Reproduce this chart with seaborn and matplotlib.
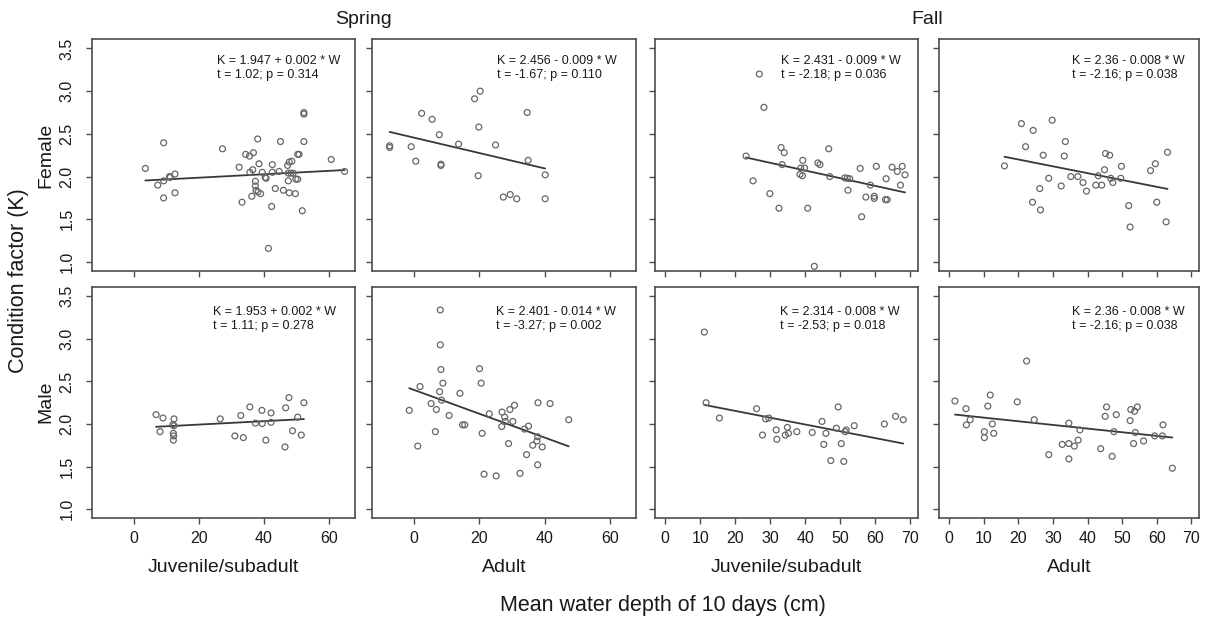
import numpy as np
import pandas as pd
import matplotlib
matplotlib.use("Agg")
import matplotlib.pyplot as plt
import seaborn as sns

# ---------------- data ----------------
seasons = ["Spring", "Fall"]
stages = ["Juvenile/subadult", "Adult"]
sexes = ["Female", "Male"]

spring_xticks = [0, 20, 40, 60]
fall_xticks = [0, 10, 20, 30, 40, 50, 60, 70]
yticks = [1.0, 1.5, 2.0, 2.5, 3.0, 3.5]

# Female, spring, juvenile/subadult
f_spr_juv_x = [3.6, 9.2, 7.4, 9.2, 11.0, 11.2, 9.2, 12.7, 12.7, 27.3,
               32.4, 33.3, 34.4, 35.6, 36.8, 38.1, 38.5, 35.7, 36.6, 36.3,
               37.4, 37.4, 37.6, 38.2, 39.0, 39.5, 40.4, 40.7, 41.4, 42.4,
               42.6, 42.6, 43.5, 44.7, 45.1, 46.0, 47.3, 47.8, 48.6, 47.5,
               48.3, 49.0, 47.5, 47.8, 49.7, 49.8, 50.4, 50.4, 50.8, 52.3,
               52.3, 52.3, 51.8, 60.7, 64.8]
f_spr_juv_y = [2.095, 2.395, 1.90, 1.95, 2.00, 1.99, 1.75, 2.03, 1.81, 2.325,
               2.11, 1.70, 2.26, 2.24, 2.28, 2.44, 2.15, 2.05, 2.08, 1.77,
               1.945, 1.89, 1.84, 1.82, 1.80, 2.05, 1.99, 1.98, 1.16, 1.65,
               2.14, 2.05, 1.86, 2.06, 2.41, 1.84, 2.13, 2.17, 2.18, 2.04,
               2.04, 2.04, 1.95, 1.81, 1.80, 1.97, 1.97, 2.26, 2.26, 2.75,
               2.73, 2.41, 1.60, 2.20, 2.06]

# Female, spring, adult
f_spr_adu_x = [-7.4, -7.4, -0.8, 0.6, 2.4, 5.6, 7.8, 8.3, 8.3, 13.7,
               18.6, 20.3, 19.9, 19.7, 25.0, 27.4, 29.5, 31.5, 34.7, 35.0,
               40.2, 40.2]
f_spr_adu_y = [2.36, 2.34, 2.35, 2.18, 2.74, 2.67, 2.49, 2.145, 2.13, 2.38,
               2.91, 3.00, 2.58, 2.01, 2.37, 1.76, 1.79, 1.74, 2.75, 2.19,
               2.02, 1.74]

# Female, fall, juvenile/subadult
f_fal_juv_x = [23.1, 25.1, 26.9, 28.2, 29.9, 32.5, 33.1, 34.0, 33.4, 38.5,
               39.2, 39.3, 38.7, 39.8, 40.7, 43.6, 44.2, 42.6, 46.7, 47.0,
               51.3, 52.0, 52.7, 52.2, 55.7, 56.1, 57.3, 58.6, 59.7, 59.7,
               60.3, 63.1, 62.9, 63.4, 64.8, 66.3, 67.2, 67.7, 68.5]
f_fal_juv_y = [2.24, 1.95, 3.20, 2.81, 1.80, 1.63, 2.34, 2.28, 2.14, 2.025,
               2.01, 2.19, 2.10, 2.10, 1.63, 2.16, 2.14, 0.95, 2.325, 2.00,
               1.985, 1.98, 1.975, 1.84, 2.095, 1.53, 1.76, 1.90, 1.77, 1.745,
               2.12, 1.975, 1.73, 1.73, 2.11, 2.06, 1.90, 2.12, 2.02]

# Female, fall, adult
f_fal_adu_x = [16.0, 20.9, 22.1, 24.3, 24.1, 26.4, 26.2, 27.2, 28.8, 29.8,
               32.4, 33.3, 33.6, 35.2, 37.2, 38.7, 39.7, 42.4, 44.1, 43.1,
               44.9, 45.2, 46.4, 46.7, 47.3, 49.8, 49.6, 51.9, 52.3, 58.2,
               59.6, 60.0, 63.1, 62.7]
f_fal_adu_y = [2.125, 2.62, 2.35, 2.54, 1.70, 1.61, 1.86, 2.25, 1.98, 2.66,
               1.89, 2.24, 2.41, 2.00, 2.00, 1.93, 1.83, 1.90, 1.90, 2.01,
               2.08, 2.27, 2.25, 1.98, 1.93, 2.12, 1.98, 1.66, 1.41, 2.07,
               2.15, 1.70, 2.285, 1.47]

# Male, spring, juvenile/subadult
m_spr_juv_x = [6.9, 9.0, 8.1, 12.4, 12.0, 12.4, 12.2, 12.3, 12.2, 26.6,
               31.1, 33.7, 32.9, 35.7, 37.4, 39.4, 39.5, 40.6, 42.2, 42.2,
               46.5, 46.7, 47.7, 48.8, 50.4, 51.5, 52.3]
m_spr_juv_y = [2.11, 2.07, 1.91, 2.06, 1.99, 1.98, 1.89, 1.86, 1.81, 2.06,
               1.86, 1.84, 2.10, 2.20, 2.01, 2.16, 2.005, 1.81, 2.13, 2.02,
               1.73, 2.19, 2.31, 1.92, 2.08, 1.87, 2.25]

# Male, spring, adult
m_spr_adu_x = [8.1, 8.1, 8.3, 8.9, 7.9, 8.5, 1.9, -1.4, 1.2, 5.3,
               6.9, 6.6, 10.8, 14.1, 14.9, 15.6, 20.1, 20.6, 20.9, 21.5,
               23.1, 25.2, 26.9, 27.0, 27.8, 28.0, 29.0, 29.4, 30.3, 30.8,
               32.5, 33.9, 34.5, 35.1, 36.4, 37.7, 37.9, 37.9, 38.0, 39.3,
               41.7, 47.4]
m_spr_adu_y = [3.34, 2.93, 2.64, 2.48, 2.38, 2.28, 2.44, 2.16, 1.74, 2.24,
               2.17, 1.91, 2.10, 2.36, 1.99, 1.99, 2.65, 2.48, 1.89, 1.41,
               2.12, 1.39, 1.97, 2.14, 2.08, 2.03, 1.77, 2.17, 2.03, 2.22,
               1.42, 1.94, 1.64, 1.975, 1.75, 1.80, 1.85, 1.52, 2.25, 1.73,
               2.24, 2.05]

# Male, fall, juvenile/subadult
m_fal_juv_x = [11.2, 11.7, 15.5, 26.1, 27.8, 28.7, 29.6, 31.7, 31.9, 34.3,
               34.9, 35.2, 37.6, 42.0, 44.8, 45.3, 45.9, 47.3, 48.9, 49.4,
               50.3, 51.0, 51.4, 51.7, 54.0, 62.6, 65.8, 68.0]
m_fal_juv_y = [3.08, 2.25, 2.07, 2.18, 1.87, 2.06, 2.07, 1.93, 1.82, 1.87,
               1.96, 1.89, 1.91, 1.90, 2.03, 1.76, 1.89, 1.57, 1.95, 2.20,
               1.77, 1.56, 1.91, 1.93, 1.98, 2.00, 2.09, 2.05]

# Male, fall, adult
m_fal_adu_x = [1.7, 4.9, 5.0, 6.1, 10.2, 10.2, 11.2, 11.9, 12.5, 12.9,
               19.7, 22.4, 24.6, 28.8, 32.7, 34.6, 34.6, 34.6, 36.2, 37.3,
               37.8, 43.8, 45.1, 45.5, 47.1, 47.6, 48.3, 52.3, 52.5, 53.3,
               53.6, 53.8, 54.4, 56.2, 59.4, 61.6, 61.8, 64.5]
m_fal_adu_y = [2.27, 2.18, 1.99, 2.05, 1.91, 1.84, 2.21, 2.34, 2.00, 1.89,
               2.26, 2.74, 2.05, 1.64, 1.76, 2.01, 1.77, 1.59, 1.74, 1.81,
               1.93, 1.71, 2.09, 2.20, 1.62, 1.91, 2.11, 2.04, 2.17, 1.77,
               2.15, 1.90, 2.20, 1.80, 1.86, 1.86, 1.99, 1.48]

# regression lines as drawn (intercept, slope), panel order row-major
line_intercepts = [1.947, 2.456, 2.431, 2.36, 1.953, 2.401, 2.314, 2.118]
line_slopes = [0.002, -0.009, -0.009, -0.008, 0.002, -0.014, -0.008, -0.0043]

eq_labels = ["K = 1.947 + 0.002 * W", "K = 2.456 - 0.009 * W",
             "K = 2.431 - 0.009 * W", "K = 2.36 - 0.008 * W",
             "K = 1.953 + 0.002 * W", "K = 2.401 - 0.014 * W",
             "K = 2.314 - 0.008 * W", "K = 2.36 - 0.008 * W"]
stat_labels = ["t = 1.02; p = 0.314", "t = -1.67; p = 0.110",
               "t = -2.18; p = 0.036", "t = -2.16; p = 0.038",
               "t = 1.11; p = 0.278", "t = -3.27; p = 0.002",
               "t = -2.53; p = 0.018", "t = -2.16; p = 0.038"]

panel_x = [f_spr_juv_x, f_spr_adu_x, f_fal_juv_x, f_fal_adu_x,
           m_spr_juv_x, m_spr_adu_x, m_fal_juv_x, m_fal_adu_x]
panel_y = [f_spr_juv_y, f_spr_adu_y, f_fal_juv_y, f_fal_adu_y,
           m_spr_juv_y, m_spr_adu_y, m_fal_juv_y, m_fal_adu_y]

# ---------------- style ----------------
sns.set_theme(style="ticks")
plt.rcParams["font.family"] = ["Liberation Sans", "DejaVu Sans"]

W, H = 1207, 619
fig = plt.figure(figsize=(W / 100, H / 100), dpi=100)

col_left = [92, 372, 655, 939]
col_right = [355, 636, 918, 1199]
row_top = [39, 287]
row_bot = [271, 518]
ann_x = [[0.475, 0.473, 0.48, 0.51], [0.461, 0.468, 0.475, 0.51]]
ann_y = [(0.907, 0.845), (0.893, 0.832)]

frame_col = "#4d4d4d"
txt_col = "#1a1a1a"
pt_col = "#666666"
line_col = "#383838"

for r in range(2):
    for c in range(4):
        i = r * 4 + c
        season = seasons[c // 2]
        stage = stages[c % 2]
        left = col_left[c] / W
        width = (col_right[c] - col_left[c]) / W
        bottom = 1 - row_bot[r] / H
        height = (row_bot[r] - row_top[r]) / H
        ax = fig.add_axes([left, bottom, width, height])

        df = pd.DataFrame({"depth": panel_x[i], "K": panel_y[i]})
        sns.scatterplot(data=df, x="depth", y="K", ax=ax, marker="o", s=18,
                        facecolor="none", edgecolor=pt_col, linewidth=0.9,
                        zorder=3)
        xs = np.array([df["depth"].min(), df["depth"].max()])
        ys = line_intercepts[i] + line_slopes[i] * xs
        sns.lineplot(x=xs, y=ys, ax=ax, color=line_col, linewidth=1.3,
                     zorder=2)

        if season == "Spring":
            ax.set_xlim(-12.8, 68.0)
            ax.set_xticks(spring_xticks)
        else:
            ax.set_xlim(-2.9, 72.2)
            ax.set_xticks(fall_xticks)
        ax.set_ylim(0.895, 3.61)
        ax.set_yticks(yticks)
        ax.yaxis.set_major_formatter("{x:.1f}")
        ax.set_xlabel("")
        ax.set_ylabel("")

        for sp in ax.spines.values():
            sp.set_visible(True)
            sp.set_color(frame_col)
            sp.set_linewidth(1.2)
        ax.tick_params(axis="both", direction="out", length=4.5, width=1,
                       color=frame_col, labelcolor=txt_col, labelsize=11.5,
                       bottom=True, left=True, top=False, right=False)
        ax.tick_params(axis="x", pad=5)
        ax.tick_params(axis="y", pad=8)
        ax.tick_params(labelbottom=(r == 1), labelleft=(c == 0))
        if c == 0:
            plt.setp(ax.get_yticklabels(), rotation=90, va="center")

        ax.text(ann_x[r][c], ann_y[r][0], eq_labels[i], transform=ax.transAxes,
                ha="left", va="center", fontsize=9, color=txt_col)
        ax.text(ann_x[r][c], ann_y[r][1], stat_labels[i], transform=ax.transAxes,
                ha="left", va="center", fontsize=9, color=txt_col)

        if r == 1:
            cx = (col_left[c] + col_right[c]) / 2 / W
            fig.text(cx, 1 - 567 / H, stage, ha="center", va="center",
                     fontsize=14, color=txt_col)

# season titles
fig.text((col_left[0] + col_right[1]) / 2 / W, 1 - 19 / H, seasons[0],
         ha="center", va="center", fontsize=14, color=txt_col)
fig.text((col_left[2] + col_right[3]) / 2 / W, 1 - 19 / H, seasons[1],
         ha="center", va="center", fontsize=14, color=txt_col)

# sex labels
fig.text(46 / W, 1 - 155 / H, sexes[0], rotation=90, ha="center", va="center",
         fontsize=14, color=txt_col)
fig.text(46 / W, 1 - 402 / H, sexes[1], rotation=90, ha="center", va="center",
         fontsize=14, color=txt_col)

# global axis labels
fig.text(19 / W, 1 - 281 / H, "Condition factor (K)", rotation=90,
         ha="center", va="center", fontsize=15.5, color=txt_col)
fig.text(663 / W, 1 - 605 / H, "Mean water depth of 10 days (cm)",
         ha="center", va="center", fontsize=15.5, color=txt_col)

fig.savefig("out.png", dpi=100, facecolor="white")
